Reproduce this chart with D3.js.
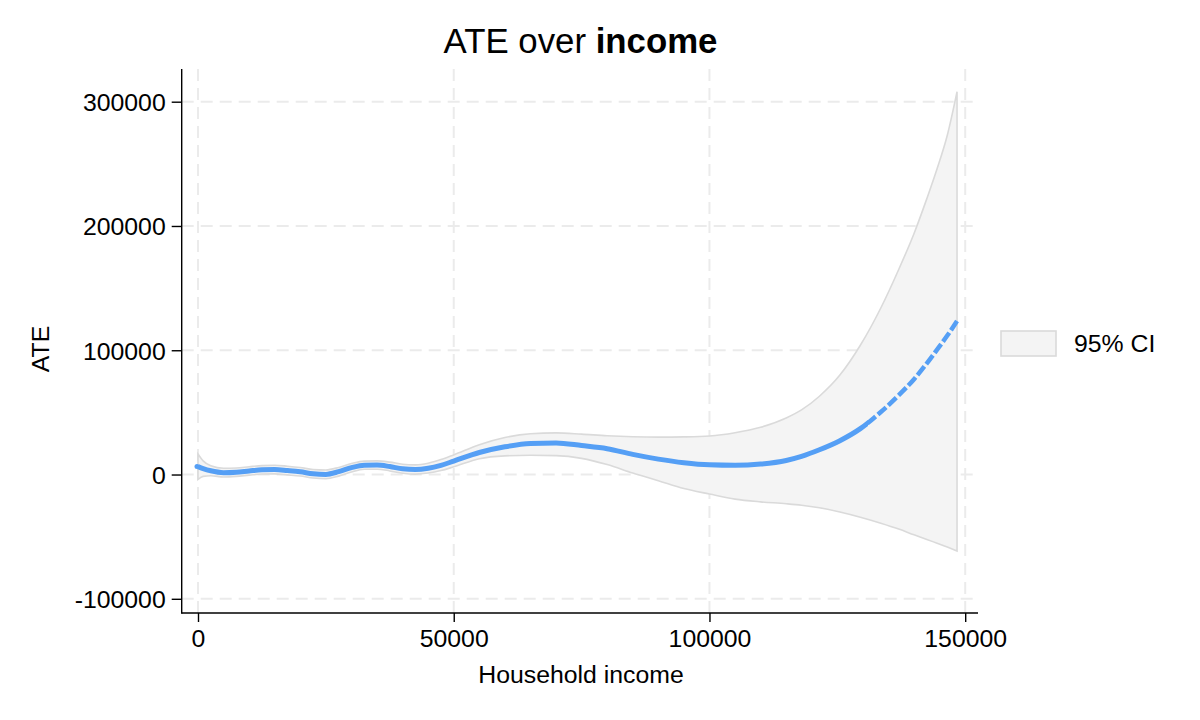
<!DOCTYPE html>
<html>
<head>
<meta charset="utf-8">
<script src="https://cdn.jsdelivr.net/npm/d3@7"></script>
<style>
  body { margin: 0; background: #fff; }
  svg { display: block; font-family: "Liberation Sans", Arial, Helvetica, sans-serif; }
  .tick text { fill: #000; }
</style>
</head>
<body>
<div id="chart"></div>
<script>
// household income grid (x) and the estimates read at each point
const income = [0, 1000, 2500, 5000, 7500, 10000, 12500, 15000, 17500, 20000,
  22500, 25000, 27500, 30000, 32500, 35000, 37500, 40000, 42500, 45000,
  47500, 50000, 55000, 60000, 65000, 70000, 75000, 80000, 85000, 90000,
  95000, 100000, 105000, 110000, 115000, 118000, 121500, 125500, 129500, 133500,
  137000, 140000, 142500, 144500, 146500, 148400];

const ate = [6400, 4800, 3000, 1500, 1900, 2900, 3800, 4000, 3200, 2200,
  600, 100, 2300, 5500, 7500, 7600, 6400, 4600, 4000, 5000,
  7400, 10800, 17700, 22300, 25000, 25400, 23300, 20800, 16200, 12400,
  9500, 7800, 7400, 8400, 11300, 14600, 19900, 27200, 36900, 50300,
  63800, 76700, 89500, 100500, 111800, 123500];

const ciUpper = [16500, 11000, 7000, 5000, 5300, 6300, 7200, 7500, 6700, 5600,
  4100, 3700, 5700, 8800, 10800, 11000, 10000, 8300, 7800, 9100,
  12000, 15800, 24000, 29800, 32800, 33500, 32500, 31200, 30400, 30100,
  30300, 31000, 33600, 38000, 45500, 52000, 63000, 80000, 104000, 134000,
  165000, 194000, 222000, 246000, 273000, 308000];

const ciLower = [-4000, -1500, -1000, -2000, -1500, -500, 400, 500, -300, -1200,
  -2800, -3400, -1300, 2000, 4200, 4300, 2900, 1000, 300, 1200,
  3200, 6200, 12700, 15000, 15500, 15200, 13000, 8000, 1200, -5000,
  -11300, -15700, -19800, -22000, -23500, -24700, -26800, -30200, -34400, -39200,
  -43900, -48500, -52200, -55300, -58400, -61500];

const xTicks = [0, 50000, 100000, 150000];
const yTicks = [-100000, 0, 100000, 200000, 300000];
const dashFrom = 131000; // sparse estimates beyond here show as dashes

const W = 1200, H = 720;
const plot = { left: 181.7, right: 978, top: 69, bottom: 613 };
const BLUE = '#559ff5';
const GRID = '#ebebeb';
const FONT = 24.8;

const rows = income.map((x, i) => ({ x, y: ate[i], lo: ciLower[i], hi: ciUpper[i] }));

const svg = d3.select('#chart').append('svg')
  .attr('width', W)
  .attr('height', H);

svg.append('rect').attr('width', W).attr('height', H).attr('fill', '#fff');

const x = d3.scaleLinear().domain([0, 150000]).range([198, 965.2]);
const y = d3.scaleLinear().domain([-100000, 300000]).range([598.8, 101.7]);

// grid
svg.append('g')
  .selectAll('line')
  .data(yTicks)
  .join('line')
  .attr('x1', plot.left).attr('x2', plot.right - 3)
  .attr('y1', d => y(d)).attr('y2', d => y(d))
  .attr('stroke', GRID).attr('stroke-width', 2).attr('stroke-dasharray', '12,7');

svg.append('g')
  .selectAll('line')
  .data(xTicks)
  .join('line')
  .attr('x1', d => x(d)).attr('x2', d => x(d))
  .attr('y1', plot.top).attr('y2', plot.bottom)
  .attr('stroke', GRID).attr('stroke-width', 2).attr('stroke-dasharray', '12,7');

// confidence band
const band = d3.area()
  .x(d => x(d.x))
  .y0(d => y(d.lo))
  .y1(d => y(d.hi))
  .curve(d3.curveMonotoneX);

svg.append('path')
  .datum(rows)
  .attr('d', band)
  .attr('fill', '#f4f4f4')
  .attr('stroke', '#dadada')
  .attr('stroke-width', 1.6);

// point estimate
const defs = svg.append('defs');
defs.append('clipPath').attr('id', 'clip-solid')
  .append('rect')
  .attr('x', 0).attr('y', 0)
  .attr('width', x(dashFrom)).attr('height', H);
defs.append('clipPath').attr('id', 'clip-dash')
  .append('rect')
  .attr('x', x(dashFrom)).attr('y', 0)
  .attr('width', W - x(dashFrom)).attr('height', H);

const line = d3.line()
  .x(d => x(d.x))
  .y(d => y(d.y))
  .curve(d3.curveMonotoneX);

svg.append('path')
  .datum(rows)
  .attr('d', line)
  .attr('clip-path', 'url(#clip-solid)')
  .attr('fill', 'none')
  .attr('stroke', BLUE)
  .attr('stroke-width', 5);

svg.append('path')
  .datum(rows)
  .attr('d', line)
  .attr('clip-path', 'url(#clip-dash)')
  .attr('fill', 'none')
  .attr('stroke', BLUE)
  .attr('stroke-width', 4.5)
  .attr('stroke-dasharray', '11,3');

svg.append('circle')
  .attr('cx', x(0) - 1).attr('cy', y(ate[0]))
  .attr('r', 2.5).attr('fill', BLUE);

// axes
const plain = d => String(d);

const yAxis = svg.append('g')
  .attr('transform', `translate(${plot.left},0)`)
  .call(d3.axisLeft(y).tickValues(yTicks).tickFormat(plain).tickSize(10).tickPadding(6));
yAxis.select('.domain').remove();
yAxis.selectAll('.tick line').attr('stroke', '#000').attr('stroke-width', 1.4);
yAxis.selectAll('.tick text').attr('font-size', FONT).attr('dy', '0.36em');

const xAxis = svg.append('g')
  .attr('transform', `translate(0,${plot.bottom})`)
  .call(d3.axisBottom(x).tickValues(xTicks).tickFormat(plain).tickSize(9).tickPadding(7));
xAxis.select('.domain').remove();
xAxis.selectAll('.tick line').attr('stroke', '#000').attr('stroke-width', 1.4);
xAxis.selectAll('.tick text').attr('font-size', FONT);

svg.append('line')
  .attr('x1', plot.left).attr('x2', plot.left)
  .attr('y1', plot.top).attr('y2', plot.bottom + 0.7)
  .attr('stroke', '#000').attr('stroke-width', 1.4);
svg.append('line')
  .attr('x1', plot.left).attr('x2', plot.right)
  .attr('y1', plot.bottom).attr('y2', plot.bottom)
  .attr('stroke', '#000').attr('stroke-width', 1.4);

// titles
const title = svg.append('text')
  .attr('x', 580.5).attr('y', 53)
  .attr('text-anchor', 'middle')
  .attr('font-size', 34.8);
title.append('tspan').text('ATE over ');
title.append('tspan').attr('font-weight', 'bold').text('income');

svg.append('text')
  .attr('x', 581).attr('y', 683)
  .attr('text-anchor', 'middle')
  .attr('font-size', FONT)
  .text('Household income');

svg.append('text')
  .attr('transform', 'translate(49,349) rotate(-90)')
  .attr('text-anchor', 'middle')
  .attr('font-size', FONT)
  .text('ATE');

// legend
const legend = svg.append('g').attr('transform', 'translate(1001,331)');
legend.append('rect')
  .attr('width', 55).attr('height', 25)
  .attr('fill', '#f4f4f4')
  .attr('stroke', '#dadada')
  .attr('stroke-width', 1.6);
legend.append('text')
  .attr('x', 73).attr('y', 21)
  .attr('font-size', FONT)
  .text('95% CI');
</script>
</body>
</html>
